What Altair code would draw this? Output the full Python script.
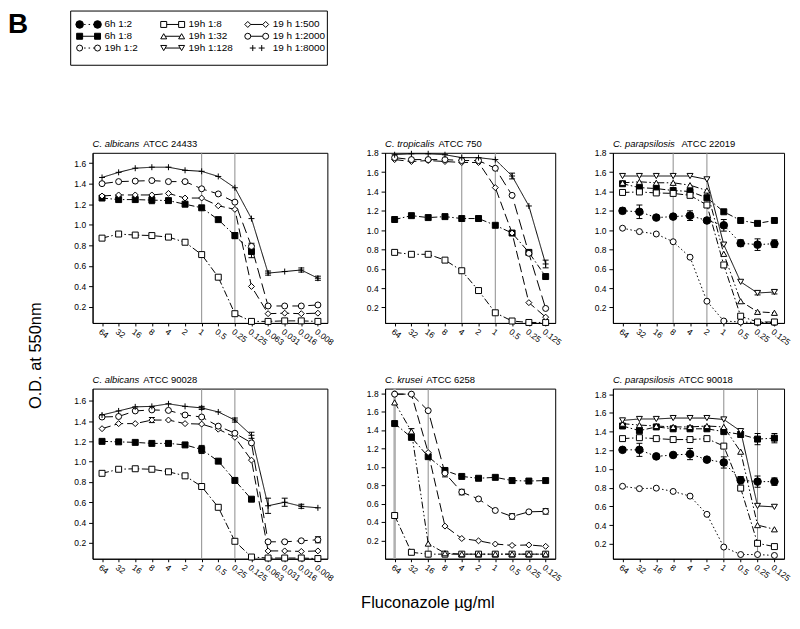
import altair as alt
import pandas as pd

FONT = "Liberation Sans"

SERIES = ["6h 1:2", "6h 1:8", "19h 1:2", "19h 1:8", "19h 1:32", "19h 1:128",
          "19 h 1:500", "19 h 1:2000", "19 h 1:8000"]
CATS14 = ["64", "32", "16", "8", "4", "2", "1", "0.5", "0.25", "0.125",
          "0.063", "0.031", "0.016", "0.008"]
CATS10 = CATS14[:10]
YTICKS_16 = [0.2, 0.4, 0.6, 0.8, 1.0, 1.2, 1.4, 1.6]
YTICKS_18 = [0.2, 0.4, 0.6, 0.8, 1.0, 1.2, 1.4, 1.6, 1.8]

# ---- Panel 1: C. albicans ATCC 24433
P1_TITLE = ["C. albicans", "ATCC 24433"]
P1_MIC = ["1", "0.25"]
P1_6H_8 = [1.26, 1.245, 1.245, 1.24, 1.235, 1.20, 1.165, 1.05, 0.895, 0.74, None, None, None, None]
P1_19H_8 = [0.87, 0.91, 0.90, 0.895, 0.88, 0.83, 0.71, 0.49, 0.135, 0.06, 0.06, 0.065, 0.065, 0.06]
P1_19H_500 = [1.28, 1.29, 1.29, 1.29, 1.305, 1.26, 1.26, 1.185, 1.15, 0.40, 0.135, 0.14, 0.135, 0.14]
P1_19H_2000 = [1.40, 1.42, 1.425, 1.43, 1.42, 1.42, 1.35, 1.30, 1.22, 0.79, 0.21, 0.21, 0.21, 0.22]
P1_19H_8000 = [1.46, 1.51, 1.55, 1.56, 1.56, 1.53, 1.52, 1.47, 1.36, 1.06, 0.53, 0.545, 0.56, 0.48]
P1_ERR = [("6h 1:8", 3, 0.035), ("6h 1:8", 8, 0.03), ("6h 1:8", 9, 0.06),
          ("19 h 1:2000", 9, 0.03), ("19 h 1:8000", 10, 0.02),
          ("19 h 1:8000", 12, 0.02), ("19 h 1:8000", 13, 0.02)]

# ---- Panel 2: C. tropicalis ATCC 750
P2_TITLE = ["C. tropicalis", "ATCC 750"]
P2_MIC = ["4", "1"]
P2_6H_8 = [1.11, 1.15, 1.13, 1.14, 1.12, 1.12, 1.05, 0.97, 0.77, 0.52]
P2_19H_8 = [0.77, 0.75, 0.75, 0.69, 0.58, 0.375, 0.145, 0.06, 0.045, 0.045]
P2_19H_500 = [1.73, 1.71, 1.72, 1.71, 1.70, 1.70, 1.44, 0.97, 0.25, 0.10]
P2_19H_2000 = [1.75, 1.73, 1.73, 1.73, 1.72, 1.72, 1.64, 1.36, 0.76, 0.19]
P2_19H_8000 = [1.78, 1.79, 1.79, 1.78, 1.75, 1.75, 1.73, 1.56, 1.25, 0.65]
P2_ERR = [("6h 1:8", 5, 0.025), ("19 h 1:8000", 7, 0.03), ("19 h 1:8000", 9, 0.04),
          ("19 h 1:2000", 8, 0.02)]

# ---- Panel 3: C. parapsilosis ATCC 22019
P3_TITLE = ["C.  parapsilosis", "ATCC 22019"]
P3_MIC = ["8", "2"]
P3_6H_2 = [1.20, 1.19, 1.13, 1.14, 1.15, 1.10, 1.05, 0.865, 0.85, 0.86]
P3_6H_8 = [1.48, 1.44, 1.43, 1.41, 1.40, 1.335, 1.19, 1.10, 1.07, 1.10]
P3_19H_2 = [1.02, 0.985, 0.96, 0.88, 0.72, 0.265, 0.06, 0.05, 0.045, 0.045]
P3_19H_8 = [1.39, 1.395, 1.385, 1.38, 1.36, 1.26, 0.64, 0.11, 0.05, 0.05]
P3_19H_32 = [1.49, 1.50, 1.49, 1.49, 1.465, 1.41, 0.755, 0.265, 0.155, 0.145]
P3_19H_128 = [1.56, 1.56, 1.56, 1.56, 1.56, 1.525, 0.85, 0.465, 0.35, 0.36]
P3_ERR = [("6h 1:2", 0, 0.03), ("6h 1:2", 1, 0.07), ("6h 1:2", 4, 0.05), ("6h 1:2", 6, 0.06),
          ("6h 1:2", 7, 0.035), ("6h 1:2", 8, 0.06), ("6h 1:2", 9, 0.04),
          ("19h 1:128", 8, 0.02), ("19h 1:128", 9, 0.02)]

# ---- Panel 4: C. albicans ATCC 90028
P4_TITLE = ["C. albicans", "ATCC 90028"]
P4_MIC = ["1", "0.25"]
P4_6H_8 = [1.20, 1.195, 1.19, 1.18, 1.18, 1.165, 1.12, 1.005, 0.815, 0.63, None, None, None, None]
P4_19H_8 = [0.885, 0.925, 0.93, 0.925, 0.90, 0.86, 0.755, 0.55, 0.215, 0.06, 0.05, 0.05, 0.05, 0.045]
P4_19H_500 = [1.325, 1.375, 1.375, 1.41, 1.41, 1.375, 1.37, 1.32, 1.24, 1.015, 0.12, 0.12, 0.115, 0.12]
P4_19H_2000 = [1.44, 1.445, 1.50, 1.51, 1.505, 1.46, 1.44, 1.35, 1.28, 1.185, 0.21, 0.21, 0.22, 0.23]
P4_19H_8000 = [1.46, 1.50, 1.54, 1.545, 1.57, 1.545, 1.53, 1.49, 1.41, 1.26, 0.565, 0.60, 0.56, 0.545]
P4_ERR = [("6h 1:8", 6, 0.04), ("19 h 1:500", 3, 0.025), ("19 h 1:8000", 6, 0.015),
          ("19 h 1:8000", 8, 0.02), ("19 h 1:8000", 9, 0.03), ("19 h 1:8000", 10, 0.075),
          ("19 h 1:8000", 11, 0.04), ("19 h 1:8000", 12, 0.02), ("19 h 1:2000", 13, 0.03)]

# ---- Panel 5: C. krusei ATCC 6258
P5_TITLE = ["C. krusei", "ATCC 6258"]
P5_MIC = ["64", "16"]
P5_6H_8 = [1.47, 1.32, 1.11, 0.96, 0.895, 0.875, 0.885, 0.85, 0.845, 0.85]
P5_19H_8 = [0.47, 0.07, 0.05, 0.05, 0.05, 0.05, 0.05, 0.05, 0.05, 0.05]
P5_19H_32 = [1.70, 1.385, 0.165, 0.06, 0.05, 0.05, 0.05, 0.05, 0.05, 0.05]
P5_19H_500 = [1.79, 1.79, 1.155, 0.355, 0.22, 0.195, 0.16, 0.145, 0.15, 0.135]
P5_19H_2000 = [1.79, 1.79, 1.61, 0.93, 0.725, 0.65, 0.525, 0.46, 0.51, 0.515]
P5_ERR = [("19 h 1:2000", 3, 0.04), ("19 h 1:2000", 4, 0.03), ("19 h 1:2000", 7, 0.03),
          ("19 h 1:2000", 9, 0.03), ("19h 1:32", 1, 0.03), ("6h 1:8", 8, 0.02)]

# ---- Panel 6: C. parapsilosis ATCC 90018
P6_TITLE = ["C. parapsilosis", "ATCC 90018"]
P6_MIC = ["1", "0.25"]
P6_6H_2 = [1.205, 1.205, 1.135, 1.15, 1.16, 1.10, 1.07, 0.88, 0.865, 0.865]
P6_6H_8 = [1.46, 1.41, 1.45, 1.43, 1.43, 1.43, 1.40, 1.37, 1.32, 1.33]
P6_19H_2 = [0.815, 0.79, 0.795, 0.76, 0.71, 0.515, 0.165, 0.085, 0.085, 0.075]
P6_19H_8 = [1.325, 1.335, 1.325, 1.315, 1.315, 1.325, 1.245, 0.795, 0.205, 0.17]
P6_19H_32 = [1.485, 1.47, 1.46, 1.45, 1.45, 1.46, 1.45, 1.185, 0.40, 0.355]
P6_19H_128 = [1.52, 1.535, 1.535, 1.545, 1.545, 1.545, 1.53, 1.405, 0.605, 0.595]
P6_ERR = [("6h 1:2", 1, 0.07), ("6h 1:2", 4, 0.06), ("6h 1:2", 6, 0.06), ("6h 1:2", 7, 0.04),
          ("6h 1:2", 8, 0.06), ("6h 1:2", 9, 0.04), ("6h 1:8", 7, 0.03), ("6h 1:8", 8, 0.06),
          ("6h 1:8", 9, 0.05), ("19h 1:8", 6, 0.02)]

Y_TITLE = "O.D. at 550nm"
X_TITLE = "Fluconazole \u00b5g/ml"
PANEL_LETTER = "B"

# ---------------- styles ----------------
DASH = alt.Scale(domain=SERIES, range=[[1.5, 2.5], [6, 2.5, 1.5, 2.5], [1.5, 2.5], [7, 2.5, 1.5, 2.5],
                                       [7, 2.5, 1.5, 2.5, 1.5, 2.5], [1, 0], [9, 4], [11, 5], [1, 0]])
SHAPE = alt.Scale(domain=SERIES, range=["circle", "square", "circle", "square", "triangle-up",
                                        "triangle-down", "diamond", "circle", "M-1,0L1,0M0,-1L0,1"])
FILL = alt.Scale(domain=SERIES, range=["black", "black", "white", "white", "white", "white",
                                       "white", "white", "transparent"])
BIG = ["6h 1:2"]
SMALL = [s for s in SERIES if s not in BIG]
BIG_SIZE = 58
SMALL_SIZE = 36

CW = {' ': 0.278, '.': 0.278, 'C': 0.722, 'a': 0.556, 'b': 0.556, 'c': 0.5, 'e': 0.556,
      'i': 0.222, 'k': 0.5, 'l': 0.222, 'n': 0.556, 'o': 0.556, 'p': 0.556, 'r': 0.333,
      's': 0.5, 't': 0.278, 'u': 0.556}


def text_width(s, fs):
    return sum(CW.get(ch, 0.556) for ch in s) * fs


PANEL_H = 171
TITLE_FS = 9.5
AXIS_TITLE_FS = 16.5
NOSTROKE = alt.ViewBackground(stroke="transparent", strokeWidth=0)


def sym_layers(base, x, y, names_size, **mk):
    out = []
    for names, sz in names_size:
        out.append(base.transform_filter(alt.FieldOneOfPredicate(field="series", oneOf=names)).mark_point(
            filled=True, opacity=1, stroke="black", strokeWidth=1, size=sz, **mk).encode(
            x=x, y=y,
            shape=alt.Shape("series:N", scale=SHAPE, legend=None),
            fill=alt.Fill("series:N", scale=FILL, legend=None)))
    return out


def panel(cats, title, mic, series, errs, ydom, yticks, width, extra=(), thick_mic=()):
    rows = []
    for s, vals in series.items():
        for i, v in enumerate(vals):
            if v is not None:
                rows.append({"series": s, "cat": cats[i], "idx": i, "od": v})
    df = pd.DataFrame(rows)
    lookup = {(s, i): v for s, vals in series.items() for i, v in enumerate(vals)}
    edf = pd.DataFrame([{"series": s, "cat": cats[i], "lo": lookup[(s, i)] - e,
                         "hi": lookup[(s, i)] + e} for s, i, e in errs])
    thin = [c for c in mic if c not in thick_mic]
    thick = [c for c in mic if c in thick_mic]

    xaxis = alt.Axis(labelAngle=37, labelAlign="left", labelBaseline="top", labelFontSize=8.5,
                     labelPadding=1, tickSize=3, labelOverlap=False, grid=False,
                     domainColor="black", tickColor="black", labelColor="black", labelFont=FONT)
    yaxis = alt.Axis(values=yticks, format=".1f", labelFontSize=8.5, labelPadding=3, tickSize=4,
                     grid=False, domainColor="black", tickColor="black", labelColor="black",
                     labelFont=FONT)
    xsc = alt.Scale(type="point", domain=cats, padding=0.57)
    ysc = alt.Scale(domain=ydom, nice=False, zero=False)

    def X():
        return alt.X("cat:N", sort=cats, scale=xsc, axis=xaxis, title=None)

    def Y(f):
        return alt.Y(f + ":Q", scale=ysc, axis=yaxis, title=None)

    layers = []
    if thin:
        layers.append(alt.Chart(pd.DataFrame({"cat": thin})).mark_rule(
            color="#8c8c8c", strokeWidth=1).encode(x=X()))
    if thick:
        layers.append(alt.Chart(pd.DataFrame({"cat": thick})).mark_rule(
            color="#b0b0b0", strokeWidth=2.5).encode(x=X()))
    layers.append(alt.Chart(df).mark_line(color="black", strokeWidth=1).encode(
        x=X(), y=Y("od"), strokeDash=alt.StrokeDash("series:N", scale=DASH, legend=None),
        detail="series:N", order=alt.Order("idx:Q")))
    layers.append(alt.Chart(edf).mark_rule(color="black", strokeWidth=1).encode(
        x=X(), y=Y("lo"), y2=alt.Y2("hi:Q")))
    for f in ("lo", "hi"):
        layers.append(alt.Chart(edf).mark_tick(color="black", thickness=1, size=6, opacity=1).encode(
            x=X(), y=Y(f)))
    layers += sym_layers(alt.Chart(df), X(), Y("od"), [(SMALL, SMALL_SIZE), (BIG, BIG_SIZE)])
    layers.append(alt.Chart(pd.DataFrame({"t": [title[0]]})).mark_text(
        align="left", baseline="alphabetic", fontStyle="italic", fontSize=TITLE_FS, font=FONT,
        color="black").encode(text="t:N", x=alt.value(0), y=alt.value(-6)))
    layers.append(alt.Chart(pd.DataFrame({"t": [title[1]]})).mark_text(
        align="left", baseline="alphabetic", fontSize=TITLE_FS, font=FONT,
        color="black").encode(text="t:N", x=alt.value(text_width(title[0], TITLE_FS) + 4),
                              y=alt.value(-6)))
    layers += list(extra)
    return alt.layer(*layers).properties(
        width=width, height=PANEL_H,
        view=alt.ViewBackground(stroke="black", strokeWidth=1))


ytitle = alt.Chart(pd.DataFrame({"t": [Y_TITLE]})).mark_text(
    angle=270, align="center", baseline="middle", fontSize=AXIS_TITLE_FS, font=FONT, color="black"
).encode(text="t:N", x=alt.value(-57), y=alt.value(-33))
xtitle = alt.Chart(pd.DataFrame({"t": [X_TITLE]})).mark_text(
    align="center", baseline="middle", fontSize=AXIS_TITLE_FS, font=FONT, color="black"
).encode(text="t:N", x=alt.value(43), y=alt.value(216))

p1 = panel(CATS14, P1_TITLE, P1_MIC,
           {"6h 1:8": P1_6H_8, "19h 1:8": P1_19H_8, "19 h 1:500": P1_19H_500,
            "19 h 1:2000": P1_19H_2000, "19 h 1:8000": P1_19H_8000},
           P1_ERR, [0.045, 1.70], YTICKS_16, 236)
p2 = panel(CATS10, P2_TITLE, P2_MIC,
           {"6h 1:8": P2_6H_8, "19h 1:8": P2_19H_8, "19 h 1:500": P2_19H_500,
            "19 h 1:2000": P2_19H_2000, "19 h 1:8000": P2_19H_8000},
           P2_ERR, [0.04, 1.80], YTICKS_18, 171)
p3 = panel(CATS10, P3_TITLE, P3_MIC,
           {"6h 1:2": P3_6H_2, "6h 1:8": P3_6H_8, "19h 1:2": P3_19H_2, "19h 1:8": P3_19H_8,
            "19h 1:32": P3_19H_32, "19h 1:128": P3_19H_128},
           P3_ERR, [0.04, 1.80], YTICKS_18, 172)
p4 = panel(CATS14, P4_TITLE, P4_MIC,
           {"6h 1:8": P4_6H_8, "19h 1:8": P4_19H_8, "19 h 1:500": P4_19H_500,
            "19 h 1:2000": P4_19H_2000, "19 h 1:8000": P4_19H_8000},
           P4_ERR, [0.043, 1.72], YTICKS_16, 236, extra=[ytitle])
p5 = panel(CATS10, P5_TITLE, P5_MIC,
           {"6h 1:8": P5_6H_8, "19h 1:8": P5_19H_8, "19h 1:32": P5_19H_32,
            "19 h 1:500": P5_19H_500, "19 h 1:2000": P5_19H_2000},
           P5_ERR, [0.0, 1.85], YTICKS_18, 171, extra=[xtitle], thick_mic=("64",))
p6 = panel(CATS10, P6_TITLE, P6_MIC,
           {"6h 1:2": P6_6H_2, "6h 1:8": P6_6H_8, "19h 1:2": P6_19H_2, "19h 1:8": P6_19H_8,
            "19h 1:32": P6_19H_32, "19h 1:128": P6_19H_128},
           P6_ERR, [0.04, 1.86], YTICKS_18, 172)

# ---------------- legend box ----------------
LEG = pd.DataFrame({"series": SERIES,
                    "col": [i // 3 for i in range(len(SERIES))],
                    "row": [i % 3 for i in range(len(SERIES))]})
lx = alt.X("col:Q", scale=alt.Scale(domain=[0, 2], range=[-13, 156], nice=False, zero=False), axis=None)
ly = alt.Y("row:Q", scale=alt.Scale(domain=[0, 2], range=[14, 37.7], nice=False, zero=False), axis=None)
DOTTED = ["6h 1:2", "19h 1:2"]
NOLINE = ["19 h 1:8000"]
SOLID = [s for s in SERIES if s not in DOTTED + NOLINE]

leg_base = alt.Chart(LEG)
leg_layers = [
    alt.Chart(pd.DataFrame({"a": [0]})).mark_rect(
        fillOpacity=0, stroke="black", strokeWidth=1).encode(
        x=alt.value(-22), x2=alt.value(236), y=alt.value(0.5), y2=alt.value(55)),
    leg_base.transform_filter(alt.FieldOneOfPredicate(field="series", oneOf=DOTTED)).mark_rule(
        color="black", strokeWidth=1, strokeDash=[1.5, 3], x2Offset=18).encode(
        x=lx, x2=alt.X2("col:Q"), y=ly),
    leg_base.transform_filter(alt.FieldOneOfPredicate(field="series", oneOf=SOLID)).mark_rule(
        color="black", strokeWidth=1, x2Offset=18).encode(x=lx, x2=alt.X2("col:Q"), y=ly),
]
LINED_SMALL = [s for s in DOTTED + SOLID if s not in BIG]
for off in (0, 18):
    leg_layers += sym_layers(leg_base, lx, ly, [(LINED_SMALL, SMALL_SIZE), (BIG, BIG_SIZE)], xOffset=off)
for off in (5, 14):
    leg_layers += sym_layers(leg_base, lx, ly, [(NOLINE, SMALL_SIZE)], xOffset=off)
leg_layers.append(leg_base.mark_text(align="left", baseline="middle", dx=25, fontSize=10, font=FONT,
                                     color="black").encode(x=lx, y=ly, text="series:N"))
leg_layers.append(alt.Chart(pd.DataFrame({"t": [PANEL_LETTER]})).mark_text(
    align="left", baseline="top", fontSize=28, fontWeight="bold", font=FONT, color="black"
).encode(text="t:N", x=alt.value(-85), y=alt.value(1)))

legend = alt.layer(*leg_layers).properties(width=236, height=77, view=NOSTROKE)


def blank():
    return alt.Chart(pd.DataFrame({"a": [0]})).mark_rect(opacity=0).encode(
        x=alt.value(0), x2=alt.value(1), y=alt.value(0), y2=alt.value(1)
    ).properties(width=1, height=1, view=NOSTROKE)


chart = alt.concat(legend, blank(), blank(), p1, p2, p3, p4, p5, p6,
                   columns=3, spacing={"row": 66, "column": 58}, bounds="flush"
                   ).resolve_scale(x="independent", y="independent").properties(
    padding={"left": 0, "top": 1, "right": 0, "bottom": 2}, background="white"
).configure_view(stroke="transparent", strokeWidth=0).configure(font=FONT)

chart.save("out.html", embed_options={"renderer": "svg", "actions": False})
